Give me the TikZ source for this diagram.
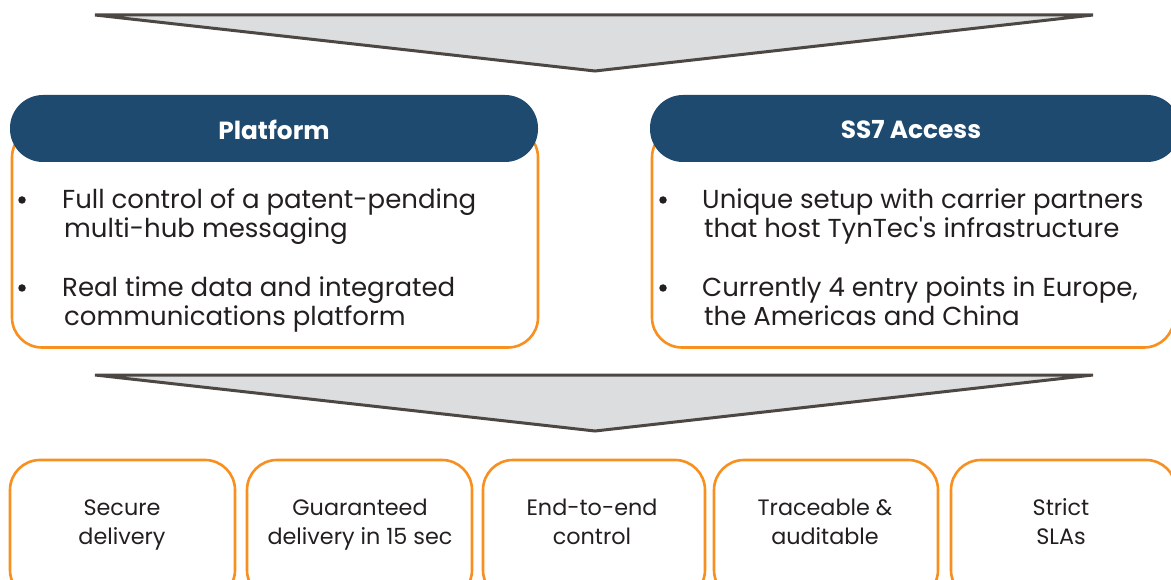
\documentclass[tikz,border=0pt]{standalone}
\usepackage{fontspec}
\setmainfont{Poppins}
\definecolor{hdrblue}{HTML}{1E4A6F}
\definecolor{boxorange}{HTML}{F7901E}
\definecolor{trifill}{HTML}{DCDDDE}
\definecolor{tristroke}{HTML}{4D4744}
\definecolor{txt}{HTML}{231F20}
\begin{document}
\begin{tikzpicture}[x=1pt,y=-1pt,
  funnel/.style={fill=trifill,draw=tristroke,line width=3pt,line join=miter},
  panel/.style={draw=boxorange,line width=2.6pt,rounded corners=30pt,fill=white},
  header/.style={fill=hdrblue,rounded corners=33pt},
  title/.style={text=white,font=\bfseries\fontsize{24.8}{28}\selectfont,inner sep=0pt},
  bul/.style={anchor=base west,inner sep=0pt,text=txt,font=\fontsize{26}{28}\selectfont},
  dot/.style={circle,fill=txt,minimum size=7.5pt,inner sep=0pt},
  feat/.style={draw=boxorange,line width=2.6pt,rounded corners=30pt},
  featlabel/.style={text=txt,align=center,font=\fontsize{22.3}{29}\selectfont,inner sep=0pt}]
\useasboundingbox (0,0) rectangle (1171,580);
\clip (0,0) rectangle (1171,580);
% funnels
\coordinate (t1l) at (95,15); \coordinate (t1r) at (1093,15); \coordinate (t1a) at (595,71);
\draw[funnel] (t1l) -- (t1r) -- (t1a) -- cycle;
\coordinate (t2l) at (95,375); \coordinate (t2r) at (1093,375); \coordinate (t2a) at (595,431);
\draw[funnel] (t2l) -- (t2r) -- (t2a) -- cycle;
% panels
\node[panel,minimum width=526pt,minimum height=220pt] (pbox) at (275,237.5) {};
\node[panel,minimum width=522pt,minimum height=220pt] (sbox) at (913,237.5) {};
\node[header,minimum width=528pt,minimum height=67pt] (phdr) at (274,128.5) {};
\node[header,minimum width=530pt,minimum height=67pt] (shdr) at (915,128.5) {};
\node[title] (ptitle) at (274,130) {Platform};
\node[title] (stitle) at (911,130) {SS7 Access};
% bullets platform
\node[dot] (pd1) at (22,200) {};
\node[bul] (pt1a) at (62,209) {Full control of a patent-pending};
\node[bul] (pt1b) at (64,238) {multi-hub messaging};
\node[dot] (pd2) at (22,288) {};
\node[bul] (pt2a) at (62,297) {Real time data and integrated};
\node[bul] (pt2b) at (64,326) {communications platform};
% bullets ss7
\node[dot] (sd1) at (663,200) {};
\node[bul] (st1a) at (702,209) {Unique setup with carrier partners};
\node[bul] (st1b) at (704,238) {that host TynTec\textquotesingle s infrastructure};
\node[dot] (sd2) at (663,288) {};
\node[bul] (st2a) at (702,297) {Currently 4 entry points in Europe,};
\node[bul] (st2b) at (704,326) {the Americas and China};
% feature boxes
\node[feat,minimum width=225pt,minimum height=140pt] (f1) at (122.5,530) {};
\node[feat,minimum width=225pt,minimum height=140pt] (f2) at (359.5,530) {};
\node[feat,minimum width=222pt,minimum height=140pt] (f3) at (594,530) {};
\node[feat,minimum width=224pt,minimum height=140pt] (f4) at (826,530) {};
\node[feat,minimum width=225pt,minimum height=140pt] (f5) at (1063.5,530) {};
\node[featlabel] (l1) at (122,524) {\strut Secure\\delivery\strut};
\node[featlabel] (l2) at (360,524) {\strut Guaranteed\\delivery in 15 sec\strut};
\node[featlabel] (l3) at (592,524) {\strut End-to-end\\control\strut};
\node[featlabel] (l4) at (825,524) {\strut Traceable \&\\auditable\strut};
\node[featlabel] (l5) at (1061,524) {\strut Strict\\SLAs\strut};
\end{tikzpicture}
\end{document}
